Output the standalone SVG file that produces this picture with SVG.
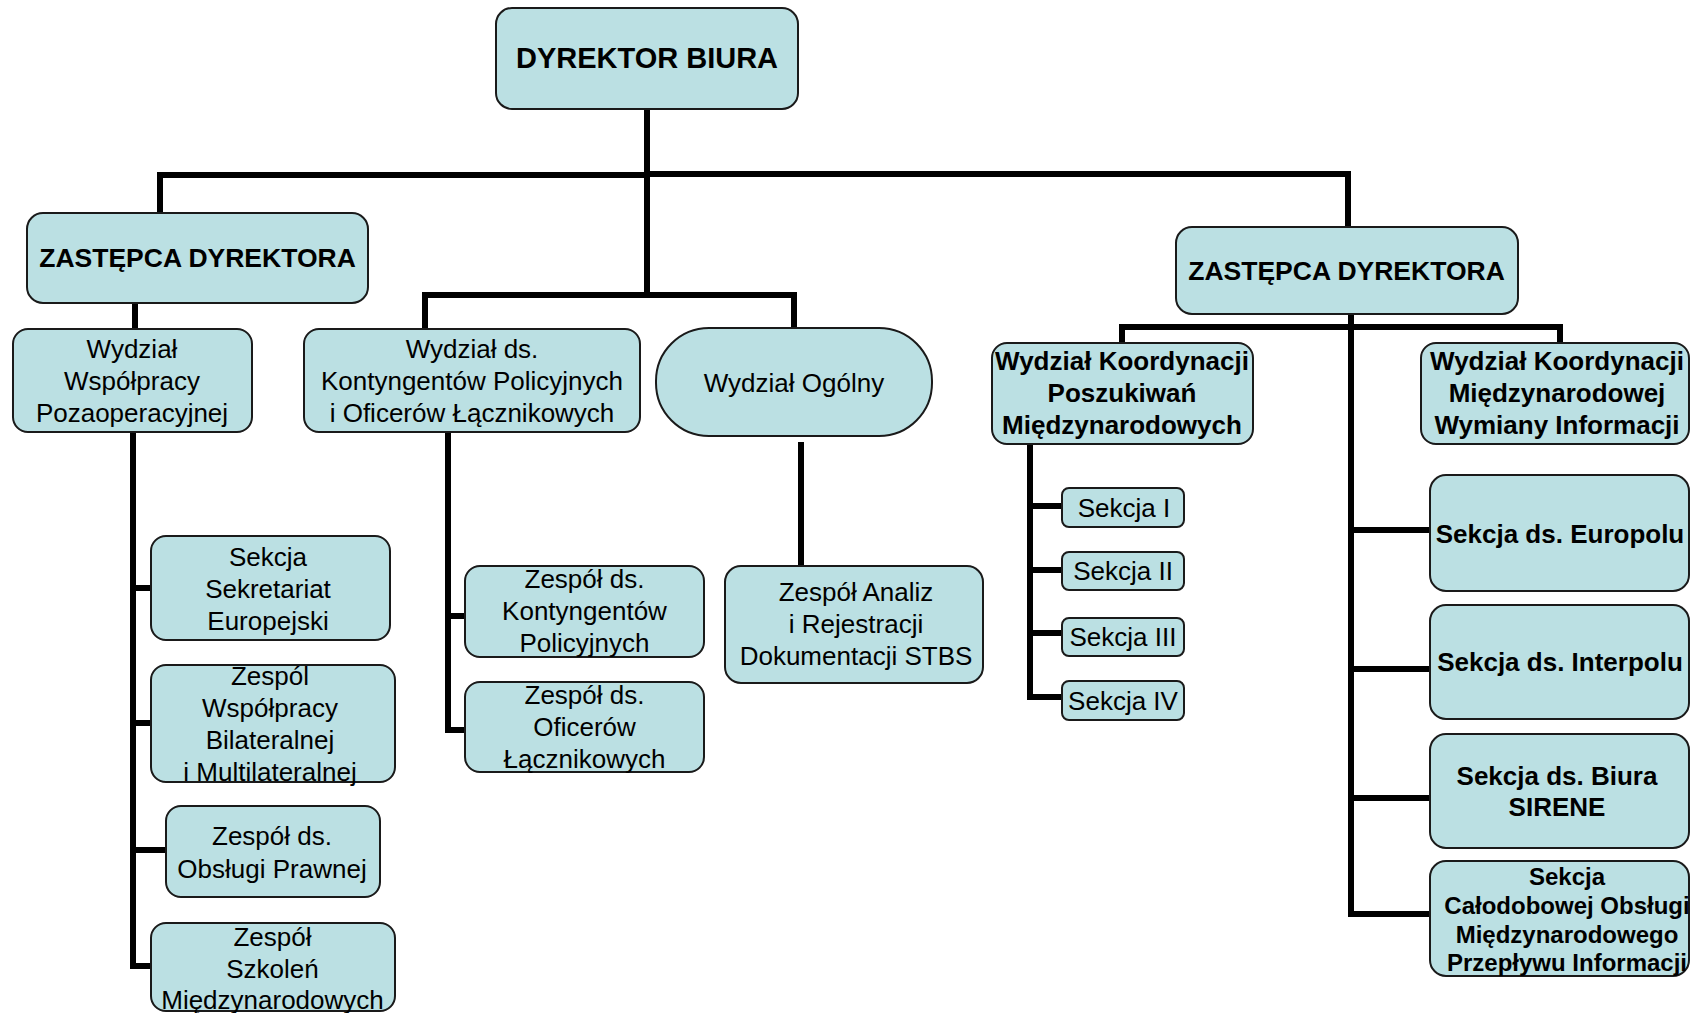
<svg xmlns="http://www.w3.org/2000/svg" width="1691" height="1013" viewBox="0 0 1691 1013">
<style>
.bg{fill:#ffffff}
.box{fill:#bbe0e3;stroke:#1a1a1a;stroke-width:2}
.c{fill:none;stroke:#000;stroke-width:6;stroke-linecap:butt;stroke-linejoin:miter}
text{font-family:"Liberation Sans",Arial,sans-serif;fill:#000;text-anchor:middle}
.r{font-size:26px}
.b{font-size:26px;font-weight:bold}
.bs{font-size:24px;font-weight:bold}
</style>
<rect class="bg" x="0" y="0" width="1691" height="1013"/>
<g id="connectors">
<path class="c" d="M647,109 V295"/>
<path class="c" d="M160,212 V175 H647"/>
<path class="c" d="M644,174 H1348 V227"/>
<path class="c" d="M135,303 V329"/>
<path class="c" d="M425,329 V295 H794 V328"/>
<path class="c" d="M1351,314 V914 H1430"/>
<path class="c" d="M1122,343 V327 H1560 V343"/>
<path class="c" d="M1351,530 H1430 M1351,669 H1430 M1351,798 H1430"/>
<path class="c" d="M133,432 V966 H151 M133,588 H151 M133,723 H151 M133,850 H166"/>
<path class="c" d="M448,432 V730 H465 M448,616 H465"/>
<path class="c" d="M801,442 V566"/>
<path class="c" d="M1030,444 V697 H1062 M1030,506 H1062 M1030,570 H1062 M1030,633 H1062"/>
</g>
<g id="n-dyrektor">
<rect class="box" x="496" y="8" width="302" height="101" rx="16"/>
<text class="b" style="font-size:29px" x="647" y="68">DYREKTOR BIURA</text>
</g>
<g id="n-zastepca-l">
<rect class="box" x="27" y="213" width="341" height="90" rx="16"/>
<text class="b" style="font-size:26.5px" x="197.5" y="267">ZASTĘPCA DYREKTORA</text>
</g>
<g id="n-zastepca-r">
<rect class="box" x="1176" y="227" width="342" height="87" rx="16"/>
<text class="b" style="font-size:26.5px" x="1346.5" y="280">ZASTĘPCA DYREKTORA</text>
</g>
<g id="n-wwp">
<rect class="box" x="13" y="329" width="239" height="103" rx="15"/>
<text class="r" x="132" y="358">Wydział</text>
<text class="r" x="132" y="390">Współpracy</text>
<text class="r" x="132" y="422">Pozaoperacyjnej</text>
</g>
<g id="n-wkp">
<rect class="box" x="304" y="329" width="336" height="103" rx="15"/>
<text class="r" x="472" y="358">Wydział ds.</text>
<text class="r" x="472" y="390">Kontyngentów Policyjnych</text>
<text class="r" x="472" y="422">i Oficerów Łącznikowych</text>
</g>
<g id="n-wo">
<rect class="box" x="656" y="328" width="276" height="108" rx="53"/>
<text class="r" x="794" y="392">Wydział Ogólny</text>
</g>
<g id="n-wkpm">
<rect class="box" x="992" y="343" width="261" height="101" rx="15"/>
<text class="b" x="1122" y="370">Wydział Koordynacji</text>
<text class="b" x="1122" y="402">Poszukiwań</text>
<text class="b" x="1122" y="434">Międzynarodowych</text>
</g>
<g id="n-wkmwi">
<rect class="box" x="1421" y="343" width="268" height="101" rx="15"/>
<text class="b" x="1557" y="370">Wydział Koordynacji</text>
<text class="b" x="1557" y="402">Międzynarodowej</text>
<text class="b" x="1557" y="434">Wymiany Informacji</text>
</g>
<g id="n-sse">
<rect class="box" x="151" y="536" width="239" height="104" rx="15"/>
<text class="r" x="268" y="566">Sekcja</text>
<text class="r" x="268" y="598">Sekretariat</text>
<text class="r" x="268" y="630">Europejski</text>
</g>
<g id="n-zwbm">
<rect class="box" x="151" y="665" width="244" height="117" rx="15"/>
<text class="r" x="270" y="685">Zespól</text>
<text class="r" x="270" y="717">Współpracy</text>
<text class="r" x="270" y="749">Bilateralnej</text>
<text class="r" x="270" y="781">i Multilateralnej</text>
</g>
<g id="n-zop">
<rect class="box" x="166" y="806" width="214" height="91" rx="15"/>
<text class="r" x="272" y="845">Zespół ds.</text>
<text class="r" x="272" y="878">Obsługi Prawnej</text>
</g>
<g id="n-zsm">
<rect class="box" x="151" y="923" width="244" height="88" rx="15"/>
<text class="r" x="272.5" y="946">Zespół</text>
<text class="r" x="272.5" y="978">Szkoleń</text>
<text class="r" x="272.5" y="1009">Międzynarodowych</text>
</g>
<g id="n-zkp">
<rect class="box" x="465" y="566" width="239" height="91" rx="15"/>
<text class="r" x="584.5" y="588">Zespół ds.</text>
<text class="r" x="584.5" y="620">Kontyngentów</text>
<text class="r" x="584.5" y="652">Policyjnych</text>
</g>
<g id="n-zol">
<rect class="box" x="465" y="682" width="239" height="90" rx="15"/>
<text class="r" x="584.5" y="704">Zespół ds.</text>
<text class="r" x="584.5" y="736">Oficerów</text>
<text class="r" x="584.5" y="768">Łącznikowych</text>
</g>
<g id="n-zar">
<rect class="box" x="725" y="566" width="258" height="117" rx="16"/>
<text class="r" x="856" y="601">Zespół Analiz</text>
<text class="r" x="856" y="633">i Rejestracji</text>
<text class="r" x="856" y="665">Dokumentacji STBS</text>
</g>
<g id="n-s1">
<rect class="box" x="1062" y="488" width="122" height="39" rx="7"/>
<text class="r" x="1124" y="517">Sekcja I</text>
</g>
<g id="n-s2">
<rect class="box" x="1062" y="552" width="122" height="38" rx="7"/>
<text class="r" x="1123" y="580">Sekcja II</text>
</g>
<g id="n-s3">
<rect class="box" x="1062" y="618" width="122" height="38" rx="7"/>
<text class="r" x="1123" y="646">Sekcja III</text>
</g>
<g id="n-s4">
<rect class="box" x="1062" y="681" width="122" height="39" rx="7"/>
<text class="r" x="1123" y="710">Sekcja IV</text>
</g>
<g id="n-europol">
<rect class="box" x="1430" y="475" width="259" height="116" rx="16"/>
<text class="b" x="1560" y="543">Sekcja ds. Europolu</text>
</g>
<g id="n-interpol">
<rect class="box" x="1430" y="605" width="259" height="114" rx="16"/>
<text class="b" x="1560" y="671">Sekcja ds. Interpolu</text>
</g>
<g id="n-sirene">
<rect class="box" x="1430" y="734" width="259" height="114" rx="16"/>
<text class="b" x="1557" y="785">Sekcja ds. Biura</text>
<text class="b" x="1557" y="816">SIRENE</text>
</g>
<g id="n-cop">
<rect class="box" x="1430" y="861" width="259" height="115" rx="16"/>
<text class="bs" x="1567" y="885">Sekcja</text>
<text class="bs" x="1567" y="914">Całodobowej Obsługi</text>
<text class="bs" x="1567" y="943">Międzynarodowego</text>
<text class="bs" x="1567" y="971">Przepływu Informacji</text>
</g>
</svg>
